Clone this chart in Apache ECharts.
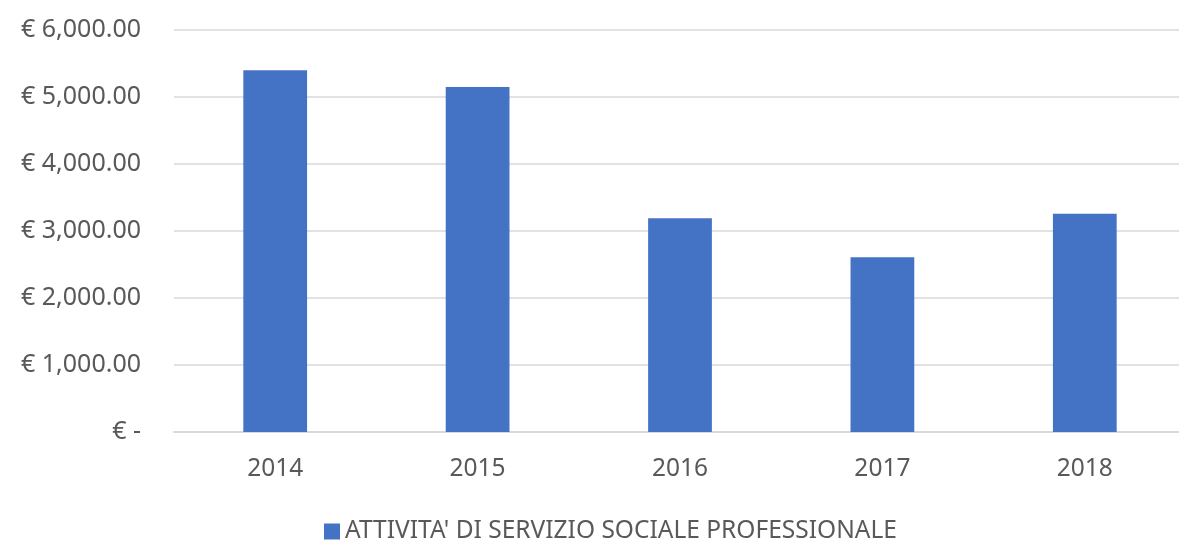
<!DOCTYPE html>
<html lang="it">
<head>
    <meta charset="UTF-8">
    <title>Attività di servizio sociale professionale</title>
    <script src="https://cdn.jsdelivr.net/npm/echarts@6/dist/echarts.min.js"></script>
    <style>
        html, body { margin: 0; padding: 0; background: #ffffff; }
        #main { width: 1179px; height: 545px; }
    </style>
</head>
<body>
<div id="main"></div>
<script type="text/javascript">
    // dati
    var anni = ['2014', '2015', '2016', '2017', '2018'];
    var importi = [5400, 5150, 3190, 2607, 3258];
    var nomeSerie = "ATTIVITA' DI SERVIZIO SOCIALE PROFESSIONALE";

    var testo = '#595959';
    var griglia = '#d9d9d9';

    function euro(v) {
        if (v === 0) return '€ -';
        return '€ ' + v.toLocaleString('en-US', { minimumFractionDigits: 2, maximumFractionDigits: 2 });
    }

    var myChart = echarts.init(document.getElementById('main'));

    var option = {
        backgroundColor: '#ffffff',
        animation: false,
        textStyle: { fontFamily: 'Noto Sans' },
        legend: {
            data: [nomeSerie],
            top: 514,
            left: 319,
            icon: 'rect',
            itemWidth: 16,
            itemHeight: 16,
            itemGap: 8,
            textStyle: { color: testo, fontSize: 24.5, fontFamily: 'Noto Sans' }
        },
        grid: {
            left: 174,
            width: 1012,
            top: 30,
            height: 402,
            outerBoundsMode: 'none'
        },
        xAxis: {
            type: 'category',
            data: anni,
            axisTick: { show: false },
            axisLine: { lineStyle: { color: griglia, width: 2 } },
            axisLabel: { color: testo, fontSize: 24.5, margin: 25 }
        },
        yAxis: {
            type: 'value',
            min: 0,
            max: 6000,
            interval: 1000,
            axisLine: { show: false },
            axisTick: { show: false },
            splitLine: { lineStyle: { color: griglia, width: 1.5 } },
            axisLabel: {
                color: testo,
                fontSize: 25,
                margin: 33,
                formatter: euro
            }
        },
        series: [
            {
                name: nomeSerie,
                type: 'bar',
                data: importi,
                barWidth: '31.5%',
                itemStyle: { color: '#4472c4' }
            }
        ]
    };

    myChart.setOption(option);
</script>
</body>
</html>
